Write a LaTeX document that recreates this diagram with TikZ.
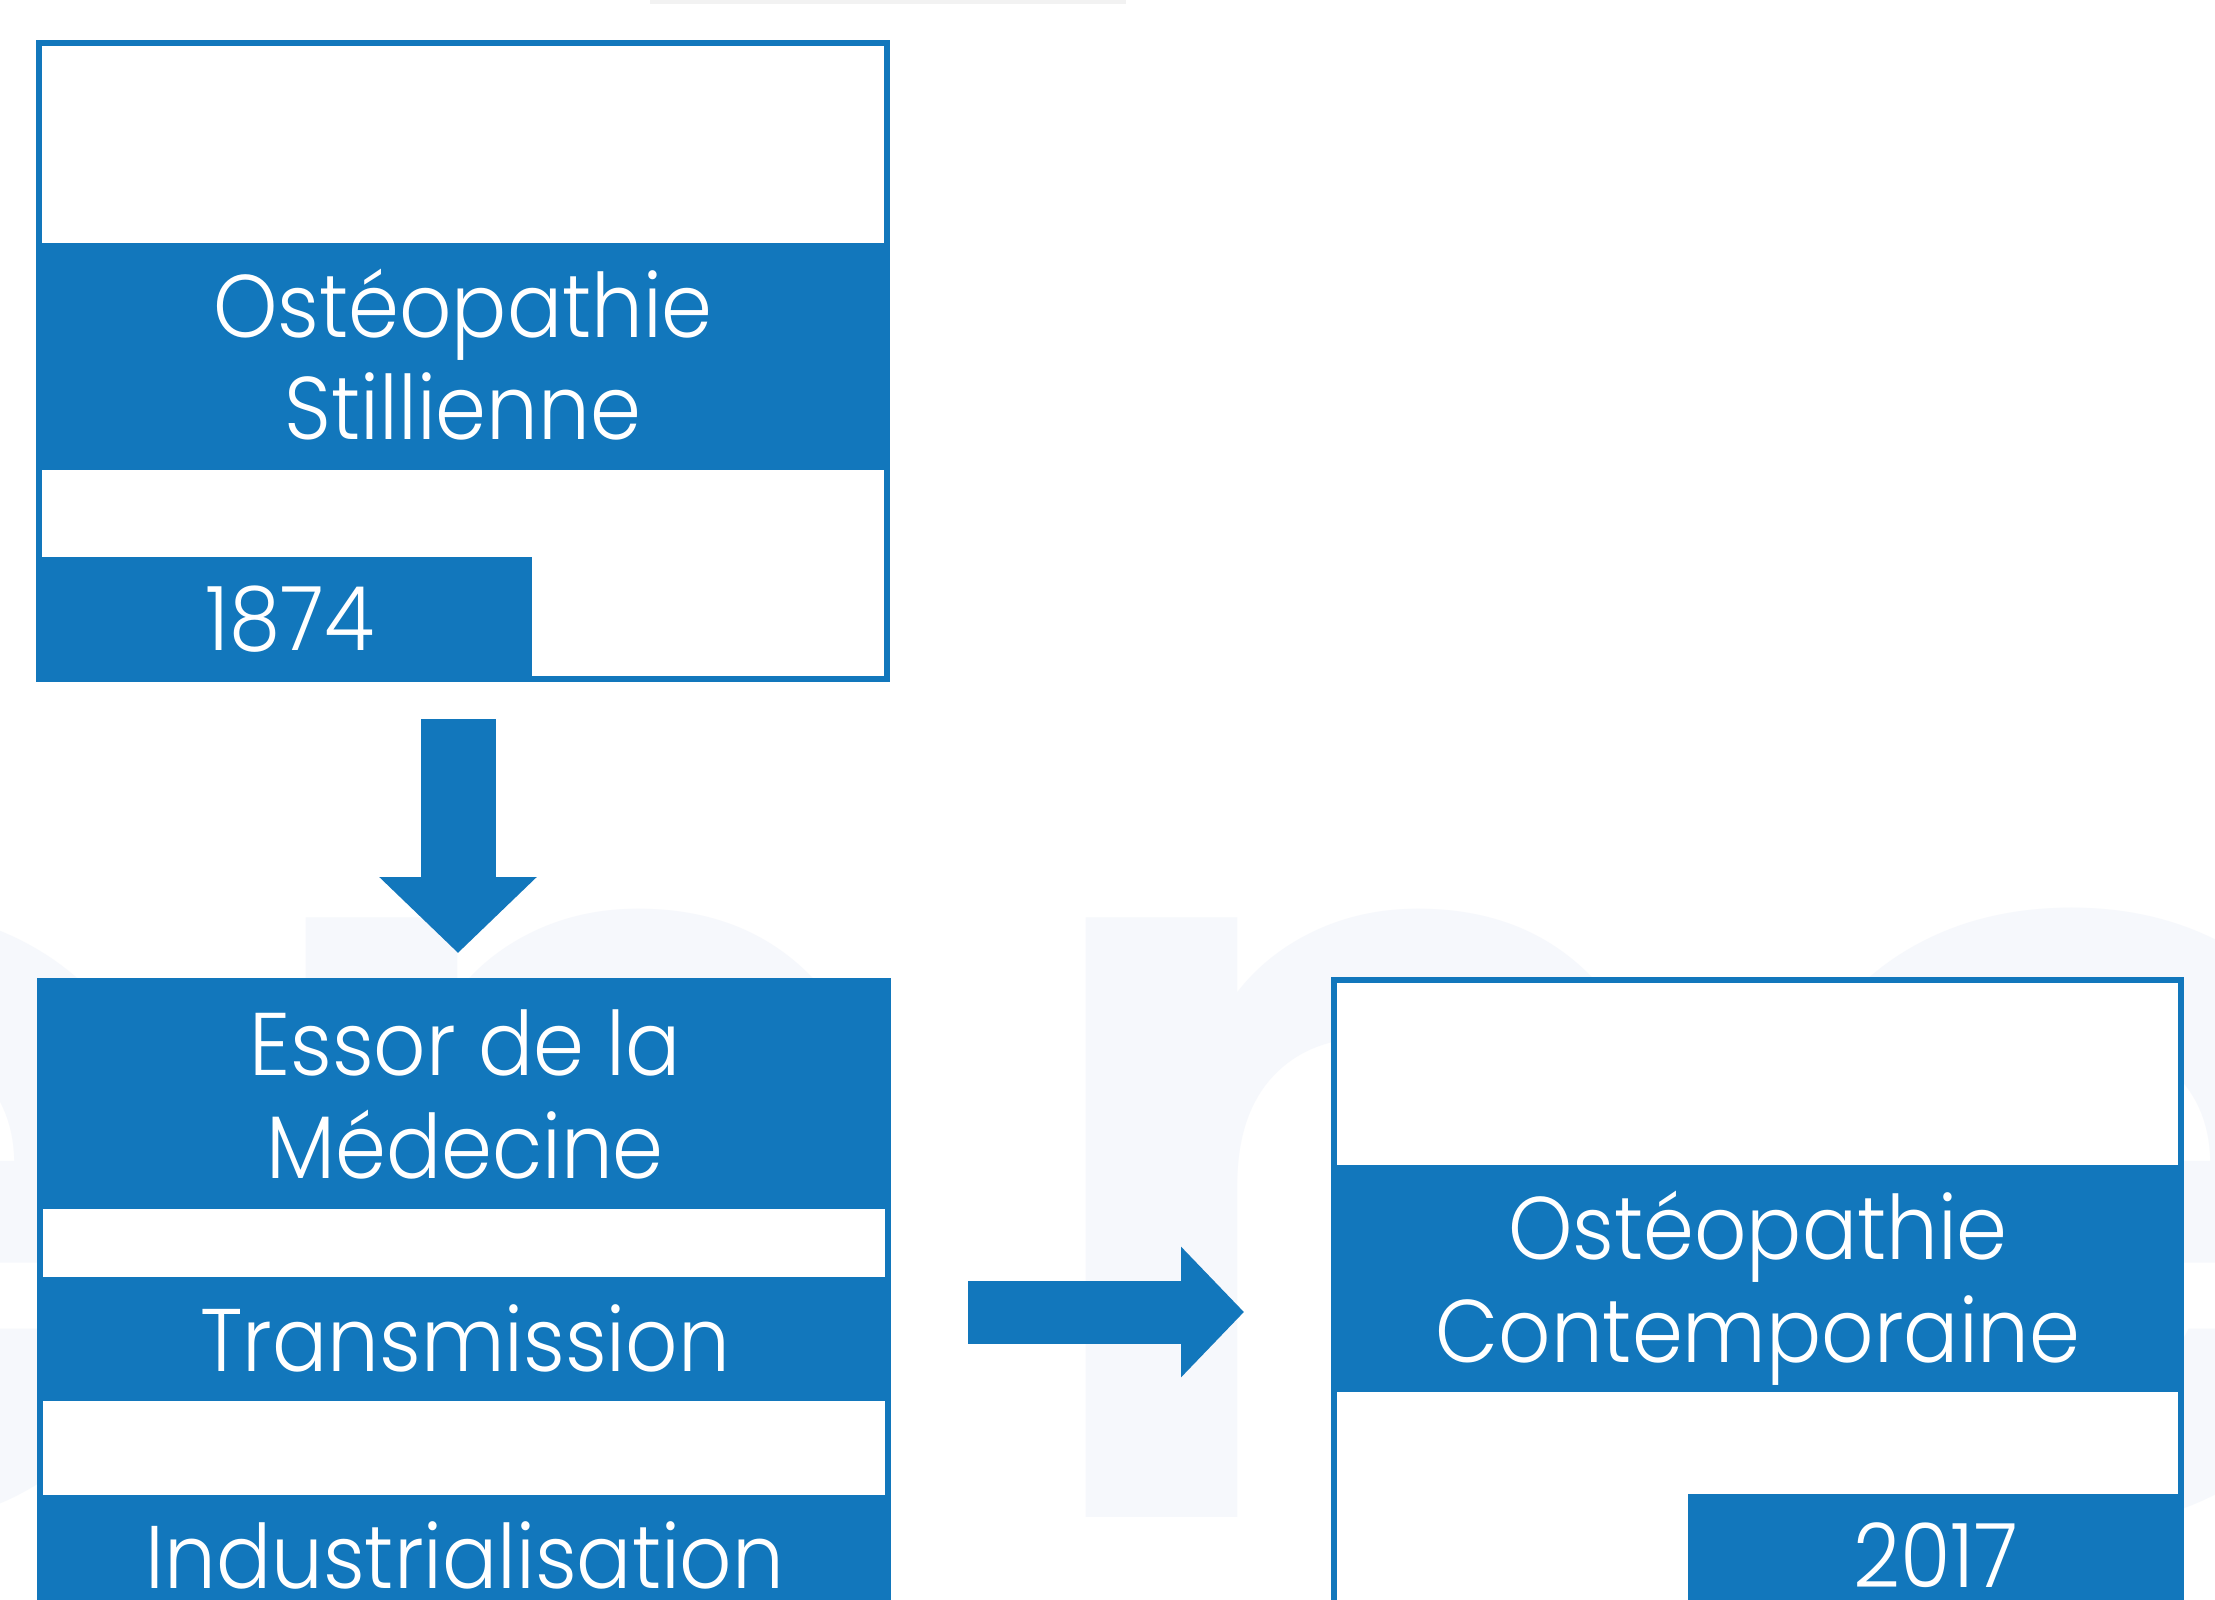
\documentclass[tikz,border=0pt]{standalone}
\usepackage{fontspec}
\IfFontExistsTF{Poppins Light}{\setmainfont{Poppins Light}[FakeStretch=0.92]}{\setmainfont{Poppins}[FakeStretch=0.92]}
\IfFontExistsTF{Poppins SemiBold}{\newfontfamily\wmfont{Poppins SemiBold}}{\newfontfamily\wmfont{Poppins}}
\usetikzlibrary{arrows.meta}

\definecolor{osteoblue}{HTML}{1277BC}
\definecolor{wmgray}{HTML}{F6F8FC}

\tikzset{
  frame/.style={draw=osteoblue, fill=white, line width=0.6mm, inner sep=0pt,
    outer sep=0pt, anchor=north west},
  band/.style={fill=osteoblue, inner sep=0pt, outer sep=0pt, anchor=north west},
  txt/.style={text=white, font=\fontsize{25.3}{29}\selectfont, anchor=base,
    inner sep=0pt},
  wm/.style={text=wmgray, font=\wmfont\fontsize{308}{308}\selectfont,
    inner sep=0pt, anchor=base west},
  bigarrow/.style={draw=osteoblue}
}

\begin{document}
\begin{tikzpicture}[x=1mm,y=-1mm]
  \useasboundingbox[fill=white] (0,0) rectangle (221.5,160);
  \fill[black!5] (65,0) rectangle (112.6,0.4);

  % watermark
  \node[wm, anchor=base east] (wm1) at (20.8,151.7) {e};
  \node[wm] (wm2) at (23.1,151.7) {n};
  \node[wm] (wm3) at (101.1,151.7) {n};
  \node[wm] (wm4) at (173.5,151.7) {e};

  % boxes
  \node[frame, minimum width=84.8mm, minimum height=63.5mm] (stille) at (3.9,4.35) {};
  \node[band, minimum width=85.4mm, minimum height=22.7mm] (stilleband) at (3.6,24.3) {};
  \node[band, minimum width=49.6mm, minimum height=12.45mm] (stilletab) at (3.6,55.7) {};

  \node[frame, minimum width=84.8mm, minimum height=66.3mm] (essor) at (4.0,98.05) {};
  \node[band, minimum width=85.4mm, minimum height=23.15mm] (essorband) at (3.7,97.75) {};
  \node[band, minimum width=85.4mm, minimum height=12.4mm] (transband) at (3.7,127.7) {};
  \node[band, minimum width=85.4mm, minimum height=20mm] (indusband) at (3.7,149.45) {};

  \node[frame, minimum width=84.7mm, minimum height=66.4mm] (contemp) at (133.4,98.0) {};
  \node[band, minimum width=85.3mm, minimum height=22.65mm] (contempband) at (133.1,116.5) {};
  \node[band, minimum width=49.6mm, minimum height=20mm] (contemptab) at (168.8,149.4) {};

  \foreach \t/\x/\y [count=\i] in {Ostéopathie/46.3/33.7, Stillienne/46.3/43.9,
    1874/29.0/65.0, Essor de la/46.5/107.5, Médecine/46.5/117.8,
    Transmission/46.5/137.1, Industrialisation/46.5/158.8,
    Ostéopathie/175.8/125.9, Contemporaine/175.8/136.2, 2017/193.6/158.7}{
    \node[txt] (txt\i) at (\x,\y) {\t};
  }

  % arrows
  \draw[bigarrow, line width=7.5mm, -{Triangle[length=7.6mm,width=15.3mm]}]
    ([xshift=-0.5mm,yshift=-4.05mm]stille.south) -- ([xshift=-0.6mm,yshift=2.75mm]essor.north);
  \draw[bigarrow, line width=6.3mm, -{Triangle[length=6.3mm,width=12.7mm]}]
    ([xshift=8mm]essor.east) -- ([xshift=-9mm]contemp.west);
\end{tikzpicture}
\end{document}
